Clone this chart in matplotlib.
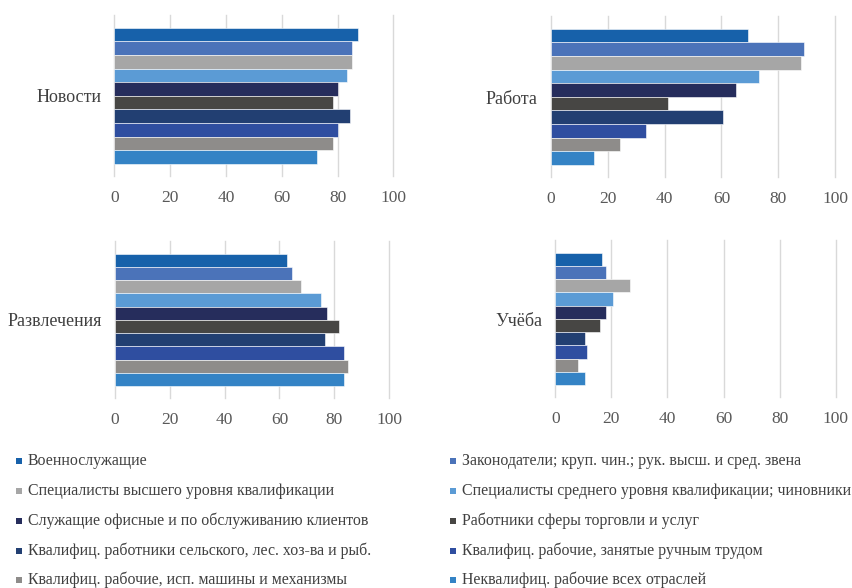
import matplotlib
matplotlib.use("Agg")
import matplotlib.pyplot as plt
from matplotlib.patches import Rectangle
from matplotlib.transforms import offset_copy

plt.rcParams['font.family'] = ['Liberation Serif', 'DejaVu Serif']

groups = [
    "Военнослужащие",
    "Законодатели; круп. чин.; рук. высш. и сред. звена",
    "Специалисты высшего уровня квалификации",
    "Специалисты среднего уровня квалификации; чиновники",
    "Служащие офисные и по обслуживанию клиентов",
    "Работники сферы торговли и услуг",
    "Квалифиц. работники сельского, лес. хоз-ва и рыб.",
    "Квалифиц. рабочие, занятые ручным трудом",
    "Квалифиц. рабочие, исп. машины и механизмы",
    "Неквалифиц. рабочие всех отраслей",
]
colors = ['#1761AA', '#4B73B9', '#A6A6A6', '#5B9BD5', '#262D5C',
          '#474644', '#223F72', '#2F4EA0', '#8E8C8A', '#3483C5']

panels = ["Новости", "Работа", "Развлечения", "Учёба"]
news = [87.5, 85.1, 85.1, 83.5, 80.2, 78.5, 84.6, 80.2, 78.5, 72.8]
work = [69.4, 89.1, 87.8, 73.3, 65.0, 41.3, 60.4, 33.6, 24.5, 15.2]
leisure = [62.7, 64.4, 67.7, 75.0, 77.2, 81.6, 76.6, 83.6, 84.8, 83.6]
study = [16.5, 18.2, 26.6, 20.4, 18.0, 16.1, 10.7, 11.4, 8.2, 10.7]
panel_values = [news, work, leisure, study]
xticks = [0, 20, 40, 60, 80, 100]

W, H = 852, 588
fig = plt.figure(figsize=(W / 100, H / 100), dpi=100)

# axes boxes in pixels: left, right, top, bottom
boxes = [
    (114.3, 393.3, 15, 176),
    (550.7, 835.3, 16, 177),
    (114.7, 389.3, 241, 398),
    (555.3, 835.7, 240, 397),
]

for name, vals, (l, r, t, b) in zip(panels, panel_values, boxes):
    ax = fig.add_axes([l / W, 1 - b / H, (r - l) / W, (b - t) / H])
    pos = list(range(len(vals)))
    ax.barh(pos, vals, height=1.0, color=colors, edgecolor='white',
            linewidth=0.4, zorder=3)
    ax.set_xlim(0, 100)
    ax.set_ylim(len(vals) - 0.5 + 0.9, -0.5 - 0.95)
    ax.set_xticks(xticks)
    ax.set_xticklabels([str(v) for v in xticks])
    ax.set_yticks([])
    for s in ax.spines.values():
        s.set_visible(False)
    ax.grid(axis='x', color='#D9D9D9', linewidth=1.0, zorder=0)
    for gl in ax.get_xgridlines():
        gl.set_clip_on(False)
    ax.tick_params(axis='x', length=0, pad=10, labelsize=12.5,
                   labelcolor='#595959')
    tr = offset_copy(ax.transAxes, fig=fig, x=-13, y=-2.5, units='dots')
    ax.text(0, 0.5, name, transform=tr, ha='right',
            va='center', fontsize=13, color='#404040')

# legend in two columns
rows_y = [461, 491, 521, 551, 580]
col_x = [(16, 28), (450, 462)]
for i, (g, c) in enumerate(zip(groups, colors)):
    row, col = divmod(i, 2)
    mx, tx = col_x[col]
    y = rows_y[row]
    fig.add_artist(Rectangle((mx / W, 1 - (y + 3) / H), 6 / W, 6 / H,
                             transform=fig.transFigure, color=c, lw=0))
    fig.text(tx / W, 1 - y / H, g, ha='left', va='center', fontsize=11.4,
             color='#404040')

fig.savefig("out.png", dpi=100)
